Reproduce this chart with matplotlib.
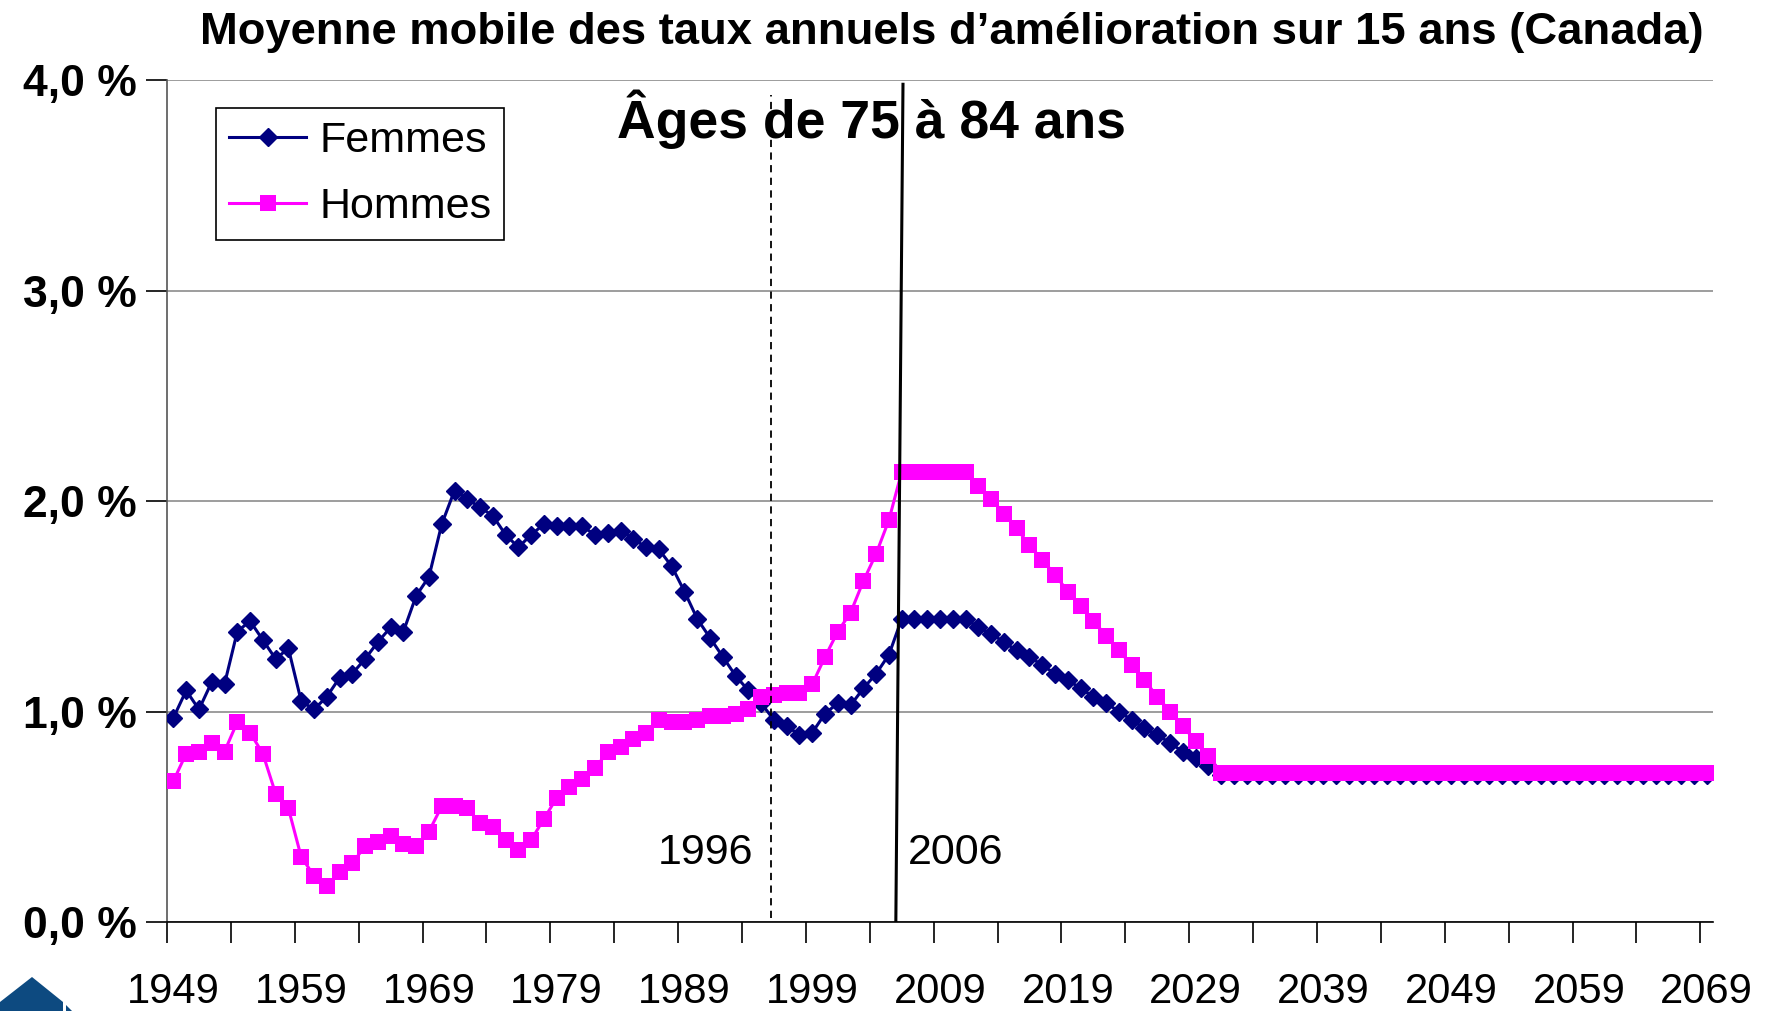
import numpy as np
import matplotlib
matplotlib.use('Agg')
import matplotlib.pyplot as plt
from matplotlib.patches import Polygon
from matplotlib.transforms import IdentityTransform

plt.rcParams['font.family'] = ['Liberation Sans', 'DejaVu Sans']

# Data: 15-year moving average of annual improvement rates (%), ages 75-84
years = list(range(1949, 2070))
femmes = [
    0.97, 1.10, 1.01, 1.14, 1.13, 1.38, 1.43, 1.34, 1.25, 1.30,  # 1949-1958
    1.05, 1.01, 1.07, 1.16, 1.18, 1.25, 1.33, 1.40, 1.38, 1.55,  # 1959-1968
    1.64, 1.89, 2.05, 2.01, 1.97, 1.93, 1.84, 1.78, 1.84, 1.89,  # 1969-1978
    1.88, 1.88, 1.88, 1.84, 1.85, 1.86, 1.82, 1.78, 1.77, 1.69,  # 1979-1988
    1.57, 1.44, 1.35, 1.26, 1.17, 1.10, 1.04, 0.96, 0.93, 0.89,  # 1989-1998
    0.90, 0.99, 1.04, 1.03, 1.11, 1.18, 1.27, 1.44, 1.44, 1.44,  # 1999-2008
    1.44, 1.44, 1.44, 1.40, 1.37, 1.33, 1.29, 1.26, 1.22, 1.18,  # 2009-2018
    1.15, 1.11, 1.07, 1.04, 1.00, 0.96, 0.92, 0.89, 0.85, 0.81,  # 2019-2028
    0.78, 0.74, 0.70, 0.70, 0.70, 0.70, 0.70, 0.70, 0.70, 0.70,  # 2029-2038
    0.70, 0.70, 0.70, 0.70, 0.70, 0.70, 0.70, 0.70, 0.70, 0.70,  # 2039-2048
    0.70, 0.70, 0.70, 0.70, 0.70, 0.70, 0.70, 0.70, 0.70, 0.70,  # 2049-2058
    0.70, 0.70, 0.70, 0.70, 0.70, 0.70, 0.70, 0.70, 0.70, 0.70,  # 2059-2068
    0.70,                                                        # 2069
]
hommes = [
    0.67, 0.80, 0.81, 0.85, 0.81, 0.95, 0.90, 0.80, 0.61, 0.54,  # 1949-1958
    0.31, 0.22, 0.17, 0.24, 0.28, 0.36, 0.38, 0.41, 0.37, 0.36,  # 1959-1968
    0.43, 0.55, 0.55, 0.54, 0.47, 0.45, 0.39, 0.34, 0.39, 0.49,  # 1969-1978
    0.59, 0.64, 0.68, 0.73, 0.81, 0.83, 0.87, 0.90, 0.96, 0.95,  # 1979-1988
    0.95, 0.96, 0.98, 0.98, 0.99, 1.01, 1.07, 1.08, 1.09, 1.09,  # 1989-1998
    1.13, 1.26, 1.38, 1.47, 1.62, 1.75, 1.91, 2.14, 2.14, 2.14,  # 1999-2008
    2.14, 2.14, 2.14, 2.07, 2.01, 1.94, 1.87, 1.79, 1.72, 1.65,  # 2009-2018
    1.57, 1.50, 1.43, 1.36, 1.29, 1.22, 1.15, 1.07, 1.00, 0.93,  # 2019-2028
    0.86, 0.79, 0.71, 0.71, 0.71, 0.71, 0.71, 0.71, 0.71, 0.71,  # 2029-2038
    0.71, 0.71, 0.71, 0.71, 0.71, 0.71, 0.71, 0.71, 0.71, 0.71,  # 2039-2048
    0.71, 0.71, 0.71, 0.71, 0.71, 0.71, 0.71, 0.71, 0.71, 0.71,  # 2049-2058
    0.71, 0.71, 0.71, 0.71, 0.71, 0.71, 0.71, 0.71, 0.71, 0.71,  # 2059-2068
    0.71,                                                        # 2069
]
label_years = list(range(1949, 2070, 10))
y_ticks = [0, 1, 2, 3, 4]
y_labels = ['0,0 %', '1,0 %', '2,0 %', '3,0 %', '4,0 %']

fig = plt.figure(figsize=(17.71, 10.11), dpi=100)
ax = fig.add_axes([0.0943, 0.0880, 0.8730, 0.8328])

ax.plot(years, femmes, color='#000080', lw=2.2, marker='D', ms=9.5,
        mec='#000080', label='Femmes', zorder=3)
ax.plot(years, hommes, color='#FF00FF', lw=2.2, marker='s', ms=12,
        mew=0, label='Hommes', zorder=4)

# reference lines
ax.plot([1995.75, 1995.75], [0.02, 3.93], color='black', lw=1.3,
        ls=(0, (4, 3)), zorder=5)
ax.plot([2005.54, 2006.1], [0.0, 3.98], color='black', lw=2.2, zorder=5)
ax.text(1994.4, 0.33, '1996', fontsize=31, ha='right', va='center')
ax.text(2006.5, 0.33, '2006', fontsize=31, ha='left', va='center')

ax.set_xlim(1948.5, 2069.5)
ax.set_ylim(0, 4)

ax.set_xticks(np.arange(1948.5, 2069, 5))
ax.set_xticklabels([])
ax.set_xticks(label_years, minor=True)
ax.set_xticklabels([str(y) for y in label_years], minor=True)
ax.tick_params(axis='x', which='major', length=15, width=1.2, direction='out')
ax.tick_params(axis='x', which='minor', length=0, pad=36, labelsize=30)

ax.set_yticks(y_ticks)
ax.set_yticklabels(y_labels, fontsize=32, fontweight='bold')
ax.tick_params(axis='y', length=15, width=1.2, direction='out', pad=7)

ax.grid(axis='y', color='#8c8c8c', lw=1.2)
ax.set_axisbelow(True)
for s in ['top', 'right']:
    ax.spines[s].set_visible(False)
ax.spines['left'].set_color('#555555')
ax.spines['left'].set_linewidth(1.2)
ax.spines['bottom'].set_linewidth(1.2)

leg = ax.legend(loc='upper left', bbox_to_anchor=(0.0317, 0.967),
                borderaxespad=0, fontsize=31, fancybox=False,
                edgecolor='black', framealpha=1, numpoints=1,
                handlelength=1.8, handletextpad=0.3, borderpad=0.3,
                labelspacing=0.6)
leg.get_frame().set_linewidth(1.2)

ax.text(0.4554, 0.953, 'Âges de 75 à 84 ans', transform=ax.transAxes,
        fontsize=38.5, fontweight='bold', ha='center', va='center')

fig.text(0.5375, 0.968,
         'Moyenne mobile des taux annuels d\u2019amélioration sur 15 ans (Canada)',
         fontsize=32.7, fontweight='bold', ha='center', va='center')

# logo fragment in bottom-left corner
logo = Polygon([(0, 0), (0, 9), (32, 34), (63, 9), (63, 0)], closed=True,
               facecolor='#0d4a80', edgecolor='none', transform=IdentityTransform())
fig.add_artist(logo)
logo2 = Polygon([(66, 0), (66, 6), (72, 0)], closed=True,
                facecolor='#0d4a80', edgecolor='none', transform=IdentityTransform())
fig.add_artist(logo2)

fig.savefig('out.png', dpi=100)
